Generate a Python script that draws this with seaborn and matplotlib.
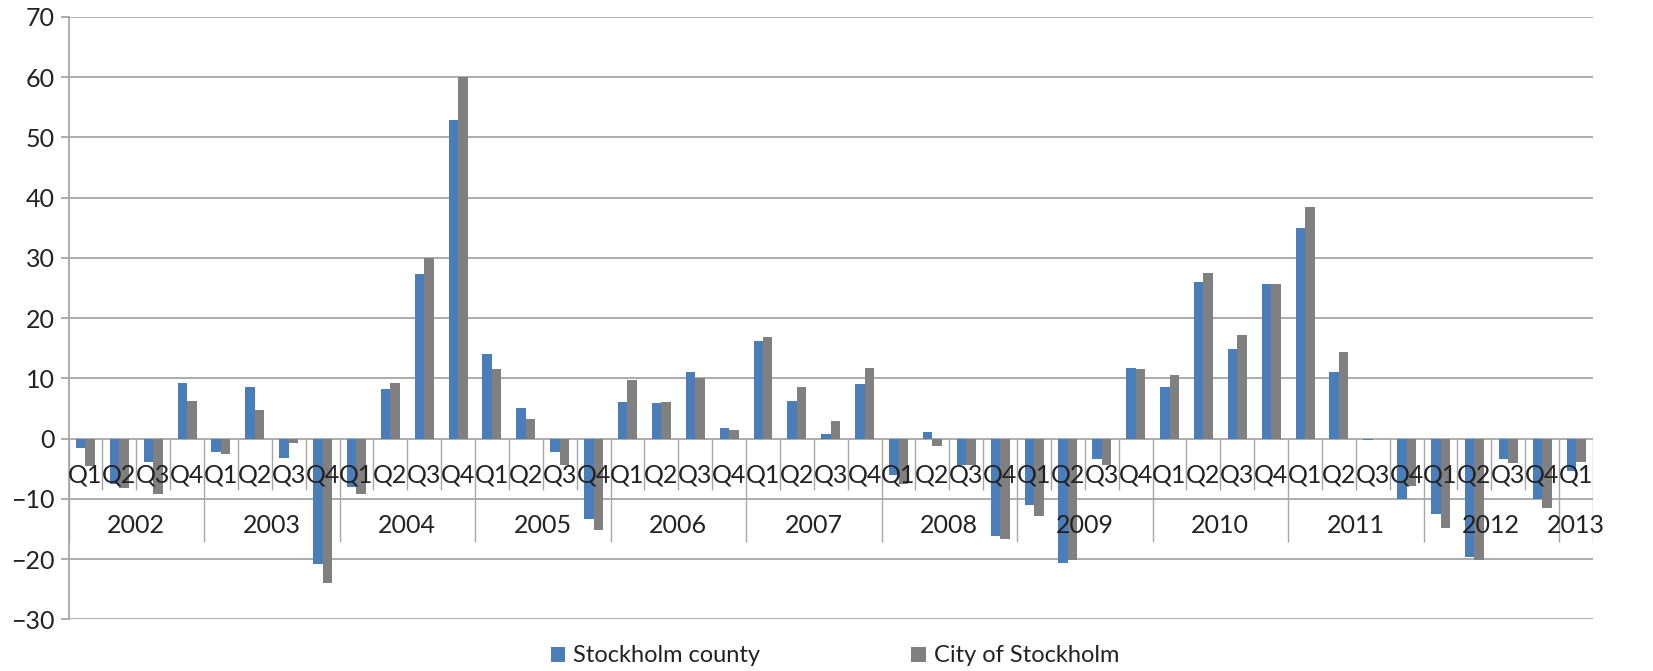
import numpy as np
import pandas as pd
import matplotlib
matplotlib.use("Agg")
import matplotlib.pyplot as plt
import seaborn as sns

years = ["2002", "2003", "2004", "2005", "2006", "2007", "2008",
         "2009", "2010", "2011", "2012", "2013"]
quarters = ["Q1", "Q2", "Q3", "Q4"]
series_names = ["Stockholm county", "City of Stockholm"]

county = [-1.6, -7.5, -3.9, 9.3,
          -2.2, 8.5, -3.3, -20.8,
          -8.1, 8.2, 27.4, 52.9,
          14.0, 5.0, -2.3, -13.3,
          6.1, 5.9, 11.0, 1.8,
          16.2, 6.3, 0.7, 9.1,
          -6.0, 1.1, -4.4, -16.2,
          -11.0, -20.6, -3.4, 11.8,
          8.6, 26.0, 14.9, 25.7,
          34.9, 11.0, -0.3, -10.1,
          -12.6, -19.7, -3.4, -10.1,
          -5.3]
city = [-4.5, -8.2, -9.2, 6.3,
        -2.6, 4.8, -0.7, -24.0,
        -9.2, 9.3, 30.0, 60.0,
        11.6, 3.2, -4.4, -15.2,
        9.7, 6.1, 10.1, 1.4,
        16.8, 8.6, 2.9, 11.8,
        -7.5, -1.3, -4.4, -16.7,
        -12.9, -20.1, -4.4, 11.6,
        10.6, 27.5, 17.2, 25.7,
        38.4, 14.4, 0.0, -7.9,
        -14.8, -20.1, -4.1, -11.5,
        -3.9]

n = len(county)
period_year = [years[i // 4] for i in range(n)]
period_q = [quarters[i % 4] for i in range(n)]
periods = [f"{y} {q}" for y, q in zip(period_year, period_q)]

df = pd.DataFrame({
    "period": periods * 2,
    "series": [series_names[0]] * n + [series_names[1]] * n,
    "value": county + city,
})

sns.set_style("white")
plt.rcParams["font.family"] = ["Lato", "DejaVu Sans"]

FS = 18
LFS = 17
fig = plt.figure(figsize=(16.53, 6.71), dpi=100)
ax = fig.add_axes([68.5 / 1653, 1 - 619.3 / 671, (1593 - 68.5) / 1653, (619.3 - 17) / 671])

blue = "#4a7ebb"
gray = "#808080"
grid_c = "#a6a6a6"
txt_c = "#222222"

sns.barplot(data=df, x="period", y="value", hue="series", order=periods,
            hue_order=series_names, palette=[blue, gray], width=0.56,
            saturation=1, ax=ax, zorder=3, linewidth=0)

handles, labels = ax.get_legend_handles_labels()
if ax.legend_ is not None:
    ax.legend_.remove()

ax.set_xlim(-0.5, n - 0.5)
ax.set_ylim(-30, 70)
ax.set_yticks(np.arange(-30, 71, 10))
ax.set_xlabel("")
ax.set_ylabel("")
ax.yaxis.grid(True, color=grid_c, linewidth=1.3, zorder=0)
ax.xaxis.grid(False)
ax.set_axisbelow(True)
for s in ["top", "right", "bottom"]:
    ax.spines[s].set_visible(False)
ax.spines["left"].set_color(grid_c)
ax.spines["left"].set_linewidth(1.3)
ax.tick_params(axis="x", bottom=False, labelbottom=False)
ax.tick_params(axis="y", left=True, length=6, width=1.3, color=grid_c,
               labelsize=FS, labelcolor=txt_c, pad=4)

# category separators
q_bounds = [i - 0.5 for i in range(1, n) if i % 4 != 0]
y_bounds = [i - 0.5 for i in range(0, n + 1) if i % 4 == 0] + [n - 0.5]
ax.vlines(q_bounds, -8.6, 0, colors=grid_c, linewidth=1, zorder=1)
ax.vlines(y_bounds, -17.2, 0, colors=grid_c, linewidth=1, zorder=1)

# quarter labels
for i in range(n):
    ax.text(i, -6.1, period_q[i], ha="center", va="center", fontsize=FS,
            color=txt_c, zorder=6)
# year labels
for y in years:
    idx = [i for i in range(n) if period_year[i] == y]
    ax.text(np.mean(idx), -14.4, y, ha="center", va="center", fontsize=FS,
            color=txt_c, zorder=6)

fig.legend(handles, labels, loc="center", ncol=2,
           bbox_to_anchor=((540 + 1130) / 2 / 1653, 1 - 656 / 671),
           frameon=False, fontsize=LFS, handlelength=0.6, handleheight=0.6,
           handletextpad=0.35, columnspacing=6.4, labelcolor=txt_c)

fig.savefig("out.png", dpi=100)
